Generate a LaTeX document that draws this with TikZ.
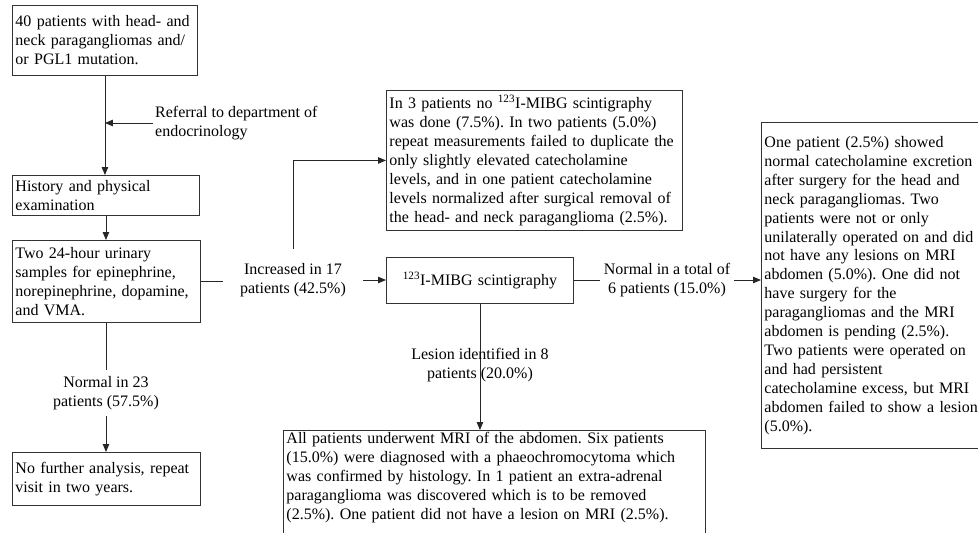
\documentclass[tikz,border=0pt]{standalone}
\usepackage{fontspec}
\setmainfont{Liberation Serif}
\usetikzlibrary{arrows.meta}
\frenchspacing
\begin{document}
\begin{tikzpicture}[x=1pt,y=-1pt,
  txt/.style={font=\fontsize{16}{18.9}\selectfont},
  box/.style={txt, draw=black!80, line width=0.9pt, anchor=north west, align=left, inner xsep=3pt, inner ysep=2pt},
  lbl/.style={txt, align=center, inner xsep=3pt, inner ysep=3pt},
  conn/.style={draw=black!85, line width=0.9pt},
  arr/.style={conn, -{Triangle[length=8pt,width=6.5pt]}},
]
\useasboundingbox (0,0) rectangle (978,533);
\clip (0,0) rectangle (978,533);

% boxes
\node[box, text width=179pt, minimum height=70pt] (b1) at (12,5)
  {40 patients with head- and\\neck paragangliomas and/\\or PGL1 mutation.};
\node[box, text width=181pt, minimum height=40pt] (b2) at (12,175)
  {History and physical\\examination};
\node[box, text width=182pt, minimum height=82pt] (b3) at (12,240)
  {Two 24-hour urinary\\samples for epinephrine,\\norepinephrine, dopamine,\\and VMA.};
\node[box, text width=182pt, minimum height=53pt] (b4) at (12,452)
  {No further analysis, repeat\\visit in two years.};
\node[box, text width=290pt, minimum height=140pt] (b5) at (386,90)
  {In 3 patients no \textsuperscript{123}I-MIBG scintigraphy\\was done (7.5\%). In two patients (5.0\%)\\repeat measurements failed to duplicate the\\only slightly elevated catecholamine\\levels, and in one patient catecholamine\\levels normalized after surgical removal of\\the head- and neck paraganglioma (2.5\%).};
\node[box, text width=181pt, minimum height=46pt, align=center] (b6) at (386,257)
  {\textsuperscript{123}I-MIBG scintigraphy};
\node[box, text width=226pt, minimum height=326pt] (b7) at (761,122)
  {One patient (2.5\%) showed\\normal catecholamine excretion\\after surgery for the head and\\neck paragangliomas. Two\\patients were not or only\\unilaterally operated on and did\\not have any lesions on MRI\\abdomen (5.0\%). One did not\\have surgery for the\\paragangliomas and the MRI\\abdomen is pending (2.5\%).\\Two patients were operated on\\and had persistent\\catecholamine excess, but MRI\\abdomen failed to show a lesion\\(5.0\%).};
\node[box, draw=none, text width=416pt] (b8) at (283,430)
  {All patients underwent MRI of the abdomen. Six patients\\(15.0\%) were diagnosed with a phaeochromocytoma which\\was confirmed by histology. In 1 patient an extra-adrenal\\paraganglioma was discovered which is to be removed\\(2.5\%). One patient did not have a lesion on MRI (2.5\%).};
\draw[draw=black!80, line width=0.9pt] ([yshift=-30pt]b8.south west) -- (b8.north west) -- (b8.north east) -- ([yshift=-30pt]b8.south east);

% labels
\node[txt, anchor=west, align=left, inner sep=2pt] (ref) at (153,123)
  {Referral to department of\\endocrinology};
\node[lbl, inner xsep=17pt, inner ysep=14pt] (inc) at (293,280)
  {Increased in 17\\patients (42.5\%)};
\node[lbl, inner xsep=4pt] (n6) at (667,280)
  {Normal in a total of\\6 patients (15.0\%)};
\node[lbl, inner ysep=6pt] (n23) at (106,393)
  {Normal in 23\\patients (57.5\%)};

% connectors
\draw[arr] (b1.south) -- (b1.south |- b2.north);
\draw[arr] (ref.west) -- (ref.west -| b1.south);
\draw[arr] (b2.south) -- (b2.south |- b3.north);
\draw[conn] (b3.east) -- (b3.east -| inc.west);
\draw[arr] (inc.east) -- (inc.east -| b6.west);
\draw[arr] (inc.north) |- (b5.west);
\draw[conn] (b6.east) -- (b6.east -| n6.west);
\draw[arr] (n6.east) -- (n6.east -| b7.west);
\draw[arr] (b6.south) -- (b6.south |- b8.north);
\draw[conn] (b3.south) -- (b3.south |- n23.north);
\draw[arr] (n23.south) -- (n23.south |- b4.north);

\node[lbl] (les) at (480,365) {Lesion identified in 8\\patients (20.0\%)};
\end{tikzpicture}
\end{document}
